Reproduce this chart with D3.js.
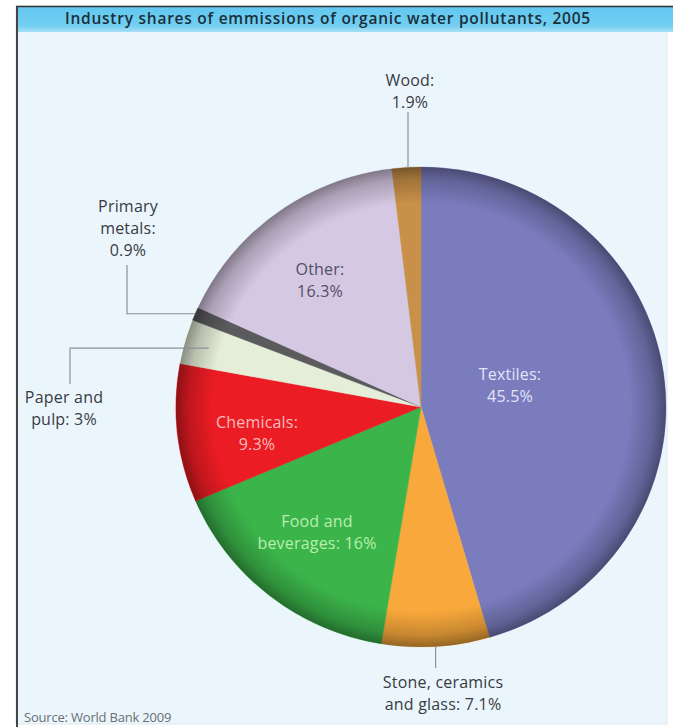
<!DOCTYPE html>
<html>
<head>
<meta charset="utf-8">
<script src="https://cdn.jsdelivr.net/npm/d3@7"></script>
<style>
  body { margin: 0; background: #fff; }
  text { font-family: "Open Sans", "Noto Sans", sans-serif; }
</style>
</head>
<body>
<svg width="673" height="727"></svg>
<script>
const categories = ["Textiles", "Stone, ceramics and glass", "Food and beverages", "Chemicals",
  "Paper and pulp", "Primary metals", "Other", "Wood"];
const shares = [45.5, 7.1, 16, 9.3, 3, 0.9, 16.3, 1.9];
const sliceColors = ["#7a7cbe", "#f9a93b", "#3bb44a", "#ec1c24", "#e5eed8", "#5b5b5e", "#d5c8e3", "#c89048"];
const labelLines = [
  ["Textiles:", "45.5%"],
  ["Stone, ceramics", "and glass: 7.1%"],
  ["Food and", "beverages: 16%"],
  ["Chemicals:", "9.3%"],
  ["Paper and", "pulp: 3%"],
  ["Primary", "metals:", "0.9%"],
  ["Other:", "16.3%"],
  ["Wood:", "1.9%"]
];
const title = "Industry shares of emmissions of organic water pollutants, 2005";
const source = "Source: World Bank 2009";

// label layout, relative to the pie centre
const labelLayout = {
  "Textiles":                  {x: 89,   y: -27,  color: "#e3e4f6"},
  "Stone, ceramics and glass": {x: 22,   y: 281,  color: "#3a3a42", line: {y0: 261, r: 1}},
  "Food and beverages":        {x: -104, y: 120,  color: "#b8efae"},
  "Chemicals":                 {x: -164, y: 21,   color: "#f8bcbc"},
  "Paper and pulp":            {x: -357, y: -4,   color: "#3a3a42", line: {x: -351, y0: -23, r: 0.9}},
  "Primary metals":            {x: -293, y: -195, color: "#3a3a42", line: {x: -294, y0: -142, r: 1}},
  "Other":                     {x: -101, y: -132, color: "#505066"},
  "Wood":                      {x: -11,  y: -321, color: "#3a3a42", line: {x: -13, y0: -295, r: 1}}
};

const svg = d3.select("svg");
const cx = 421, cy = 407, R = 240, sx = 245 / 240;
const lineH = 22;

// frame
svg.append("rect").attr("x", 16).attr("y", 6).attr("width", 651).attr("height", 718)
  .attr("fill", "#eaf6fc").attr("stroke", "#dde9ef");
const defs = svg.append("defs");
const tg = defs.append("linearGradient").attr("id", "titleGrad").attr("x1", 0).attr("y1", 0).attr("x2", 0).attr("y2", 1);
tg.append("stop").attr("offset", 0).attr("stop-color", "#62c7ef");
tg.append("stop").attr("offset", 0.75).attr("stop-color", "#72cff2");
tg.append("stop").attr("offset", 1).attr("stop-color", "#a9e0f6");
svg.append("rect").attr("x", 17).attr("y", 7).attr("width", 656).attr("height", 25).attr("fill", "url(#titleGrad)");
svg.append("line").attr("x1", 16).attr("x2", 673).attr("y1", 6.5).attr("y2", 6.5).attr("stroke", "#333").attr("stroke-width", 1.5);
svg.append("line").attr("x1", 17).attr("x2", 17).attr("y1", 6).attr("y2", 727).attr("stroke", "#444").attr("stroke-width", 2);

svg.append("text").attr("x", 65).attr("y", 24).attr("font-size", 15.5).attr("font-weight", 600)
  .attr("letter-spacing", 0.75).attr("fill", "#1b2f3a").text(title);
svg.append("text").attr("x", 24).attr("y", 722).attr("font-size", 13).attr("fill", "#6a6e72")
  .attr("letter-spacing", -0.2).text(source);

// pie
const pie = d3.pie().sort(null).value(d => d)(shares);
const arc = d3.arc().innerRadius(0).outerRadius(R);

const rg = defs.append("radialGradient").attr("id", "rim").attr("gradientUnits", "userSpaceOnUse")
  .attr("cx", 0).attr("cy", 0).attr("r", R);
rg.append("stop").attr("offset", 0.85).attr("stop-color", "#000").attr("stop-opacity", 0);
rg.append("stop").attr("offset", 0.95).attr("stop-color", "#000").attr("stop-opacity", 0.2);
rg.append("stop").attr("offset", 1).attr("stop-color", "#000").attr("stop-opacity", 0.4);

const g = svg.append("g").attr("transform", `translate(${cx},${cy}) scale(${sx},1)`);
g.selectAll("path.slice").data(pie).join("path")
  .attr("class", "slice")
  .attr("d", arc)
  .attr("fill", (d, i) => sliceColors[i])
  .attr("stroke", (d, i) => sliceColors[i])
  .attr("stroke-width", 0.5);
g.append("circle").attr("r", R).attr("fill", "url(#rim)");

// leader lines
const lab = svg.append("g").attr("transform", `translate(${cx},${cy})`);
pie.forEach((d, i) => {
  const L = labelLayout[categories[i]];
  if (!L.line) return;
  const a = (d.startAngle + d.endAngle) / 2;
  const px = Math.sin(a) * R * sx * L.line.r, py = -Math.cos(a) * R * L.line.r;
  const lx = L.line.x === undefined ? px : L.line.x;
  lab.append("path")
    .attr("d", `M${lx},${L.line.y0}V${py}H${px}`)
    .attr("fill", "none").attr("stroke", "#8c9296").attr("stroke-width", 1.2);
});

// labels
categories.forEach((c, i) => {
  const L = labelLayout[c];
  const t = lab.append("text").attr("text-anchor", "middle").attr("font-size", 16)
    .attr("letter-spacing", 0.2).attr("fill", L.color);
  labelLines[i].forEach((s, k) => {
    t.append("tspan").attr("x", L.x).attr("y", L.y + k * lineH).text(s);
  });
});
</script>
</body>
</html>
